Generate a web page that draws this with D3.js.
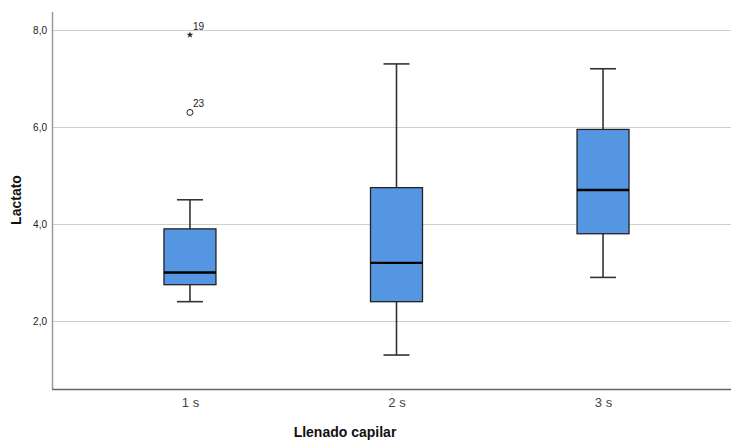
<!DOCTYPE html>
<head>
<meta charset="utf-8">
<title>Boxplot Lactato</title>
<script src="https://d3js.org/d3.v7.min.js"></script>
<style>
body { margin: 0; background: #fff; }
svg { font-family: "Liberation Sans", Arial, sans-serif; }
</style>
</head>
<body>
<div id="container"></div>
<script>
//---------------------------DATA-------------------------------//
const categories = ["1 s", "2 s", "3 s"];
const whiskerLow = [2.4, 1.3, 2.9];
const q1 = [2.75, 2.4, 3.8];
const median = [3.0, 3.2, 4.7];
const q3 = [3.9, 4.75, 5.95];
const whiskerHigh = [4.5, 7.3, 7.2];
// outliers: category index, value, case label, type
const outliers = [
  {cat: 0, value: 7.9, label: "19", type: "extreme"},
  {cat: 0, value: 6.3, label: "23", type: "outlier"}
];
const yTicks = [2, 4, 6, 8];

//---------------------------SVG--------------------------------//
const width = 731;
const height = 441;
const plot = {left: 52, top: 12, bottom: 389, right: 741};

const svg = d3.select("#container").append("svg")
  .attr("width", width)
  .attr("height", height);

//--------------------------SCALES------------------------------//
const x = d3.scalePoint()
  .domain(categories)
  .range([plot.left, plot.right])
  .padding(0.668);

const y = d3.scaleLinear()
  .domain([0.6, 8.37])
  .range([plot.bottom, plot.top]);

const boxW = 52, capW = 26;

//--------------------------GRID--------------------------------//
svg.append("g").selectAll("line")
  .data(yTicks)
  .join("line")
  .attr("x1", plot.left)
  .attr("x2", width)
  .attr("y1", d => Math.round(y(d)) + 0.5)
  .attr("y2", d => Math.round(y(d)) + 0.5)
  .attr("stroke", "#cfcfcf")
  .attr("stroke-width", 1.2);

//--------------------------AXES--------------------------------//
const yAxis = d3.axisLeft(y)
  .tickValues(yTicks)
  .tickSize(0)
  .tickPadding(5)
  .tickFormat(d => d3.format(".1f")(d).replace(".", ","));

const gy = svg.append("g")
  .attr("transform", "translate(" + plot.left + ",0)")
  .call(yAxis);
gy.select(".domain").remove();
gy.selectAll("text").attr("font-size", 10).attr("fill", "#222")
  .attr("font-family", "Liberation Sans, Arial, sans-serif");

svg.append("line")
  .attr("x1", plot.left + 0.5).attr("x2", plot.left + 0.5)
  .attr("y1", plot.top).attr("y2", plot.bottom)
  .attr("stroke", "#9a9a9a").attr("stroke-width", 1.5);

const xAxis = d3.axisBottom(x).tickSize(0).tickPadding(9);
const gx = svg.append("g")
  .attr("transform", "translate(0," + plot.bottom + ")")
  .call(xAxis);
gx.select(".domain").remove();
gx.selectAll("text").attr("font-size", 13).attr("fill", "#444")
  .attr("font-family", "Liberation Sans Narrow, Liberation Sans, Arial, sans-serif");

svg.append("line")
  .attr("x1", plot.left).attr("x2", width)
  .attr("y1", plot.bottom + 0.5).attr("y2", plot.bottom + 0.5)
  .attr("stroke", "#666").attr("stroke-width", 1.3);

svg.append("text")
  .attr("transform", "translate(21," + 200 + ") rotate(-90)")
  .attr("text-anchor", "middle")
  .attr("font-size", 14)
  .attr("font-weight", "bold")
  .attr("fill", "#111")
  .text("Lactato");

svg.append("text")
  .attr("x", 345)
  .attr("y", 437)
  .attr("text-anchor", "middle")
  .attr("font-size", 14)
  .attr("font-weight", "bold")
  .attr("fill", "#111")
  .text("Llenado capilar");

//--------------------------BOXES-------------------------------//
const boxes = svg.append("g").selectAll("g")
  .data(categories)
  .join("g");

boxes.append("line")
  .attr("x1", d => x(d)).attr("x2", d => x(d))
  .attr("y1", (d, i) => y(whiskerHigh[i]))
  .attr("y2", (d, i) => y(whiskerLow[i]))
  .attr("stroke", "#333").attr("stroke-width", 1.6);

boxes.selectAll(".cap")
  .data((d, i) => [{c: d, v: whiskerLow[i]}, {c: d, v: whiskerHigh[i]}])
  .join("line")
  .attr("class", "cap")
  .attr("x1", d => x(d.c) - capW / 2).attr("x2", d => x(d.c) + capW / 2)
  .attr("y1", d => y(d.v)).attr("y2", d => y(d.v))
  .attr("stroke", "#333").attr("stroke-width", 1.6);

boxes.append("rect")
  .attr("x", d => x(d) - boxW / 2)
  .attr("width", boxW)
  .attr("y", (d, i) => y(q3[i]))
  .attr("height", (d, i) => y(q1[i]) - y(q3[i]))
  .attr("fill", "#5596e3")
  .attr("stroke", "#222")
  .attr("stroke-width", 1.3);

boxes.append("line")
  .attr("x1", d => x(d) - boxW / 2).attr("x2", d => x(d) + boxW / 2)
  .attr("y1", (d, i) => y(median[i]))
  .attr("y2", (d, i) => y(median[i]))
  .attr("stroke", "#000").attr("stroke-width", 2.4);

//-------------------------OUTLIERS-----------------------------//
const outG = svg.append("g");
outG.selectAll("circle")
  .data(outliers.filter(d => d.type === "outlier"))
  .join("circle")
  .attr("cx", d => x(categories[d.cat]))
  .attr("cy", d => y(d.value))
  .attr("r", 3)
  .attr("fill", "none")
  .attr("stroke", "#222")
  .attr("stroke-width", 1);

outG.selectAll("path")
  .data(outliers.filter(d => d.type === "extreme"))
  .join("path")
  .attr("transform", d => "translate(" + x(categories[d.cat]) + "," + y(d.value) + ")")
  .attr("d", d3.symbol(d3.symbolStar, 14))
  .attr("fill", "#222");

outG.selectAll("text")
  .data(outliers)
  .join("text")
  .attr("x", d => x(categories[d.cat]) + 3)
  .attr("y", d => y(d.value) - 5)
  .attr("font-size", 10)
  .attr("fill", "#222")
  .text(d => d.label);
</script>
</body>
